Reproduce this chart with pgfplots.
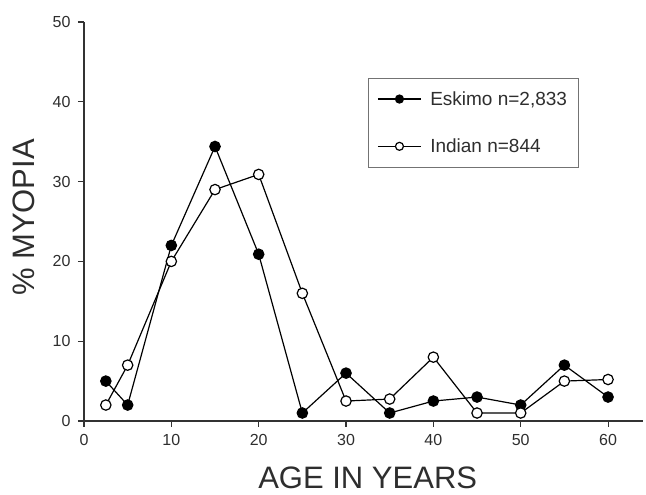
\documentclass[border=0pt]{standalone}
\usepackage{pgfplots}
\pgfplotsset{compat=1.18}
\usepackage{fontspec}
\setmainfont{Liberation Sans}
\definecolor{txt}{HTML}{2E2E2E}
\begin{document}
\begin{tikzpicture}
\begin{axis}[
 scale only axis, width=559pt, height=399pt,
 xmin=0, xmax=64, ymin=0, ymax=50,
 axis lines*=left,
 xtick={0,10,...,60}, ytick={0,10,...,50},
 tick align=outside, major tick length=6pt,
 axis line style={line width=1.1pt, color=black!80},
 tick style={line width=1.1pt, color=black!80},
 ticklabel style={font=\fontsize{16}{19}\selectfont, text=txt},
 xticklabel style={yshift=-4pt},
 yticklabel style={xshift=-4pt},
 /pgf/number format/assume math mode=true,
 xlabel={AGE IN YEARS}, ylabel={\% MYOPIA},
 label style={font=\fontsize{31}{36}\selectfont, text=txt},
 xlabel style={at={(axis description cs:0.5075,-0.1680)}, anchor=base, inner sep=0pt},
 ylabel style={at={(axis description cs:-0.0894,0.51)}, anchor=base, inner sep=0pt},
 legend style={at={(axis description cs:0.508,0.8596)}, anchor=north west,
   draw=black!55, line width=0.8pt, font=\fontsize{19}{22}\selectfont, text=txt,
   inner xsep=9pt, inner ysep=11pt, row sep=28pt, column sep=6.7pt,
   nodes={inner sep=2pt, anchor=west}},
 legend cell align=left,
 legend image code/.code={\draw[mark repeat=2,mark phase=2,#1,mark size=4pt] plot coordinates {(0pt,0pt) (21.5pt,0pt) (43pt,0pt)};},
]
\addplot[black, line width=1.2pt, mark=*, mark size=5.2pt, mark options={solid, fill=black}] coordinates {
(2.5,5.0) (5,2.0) (10,22.0) (15,34.4) (20,20.9) (25,1.0) (30,6.0) (35,1.0) (40,2.5) (45,3.0) (50,2.0) (55,7.0) (60,3.0)};
\addlegendentry{Eskimo n=2,833}
\addplot[black, line width=1.2pt, mark=*, mark size=5.2pt, mark options={solid, fill=white}] coordinates {
(2.5,2.0) (5,7.0) (10,20.0) (15,29.0) (20,30.9) (25,16.0) (30,2.5) (35,2.75) (40,8.0) (45,1.0) (50,1.0) (55,5.0) (60,5.2)};
\addlegendentry{Indian n=844}
\end{axis}
\path (current axis.south west) ++(-84pt,-74pt) rectangle ++(646pt,495pt);
\end{tikzpicture}
\end{document}
